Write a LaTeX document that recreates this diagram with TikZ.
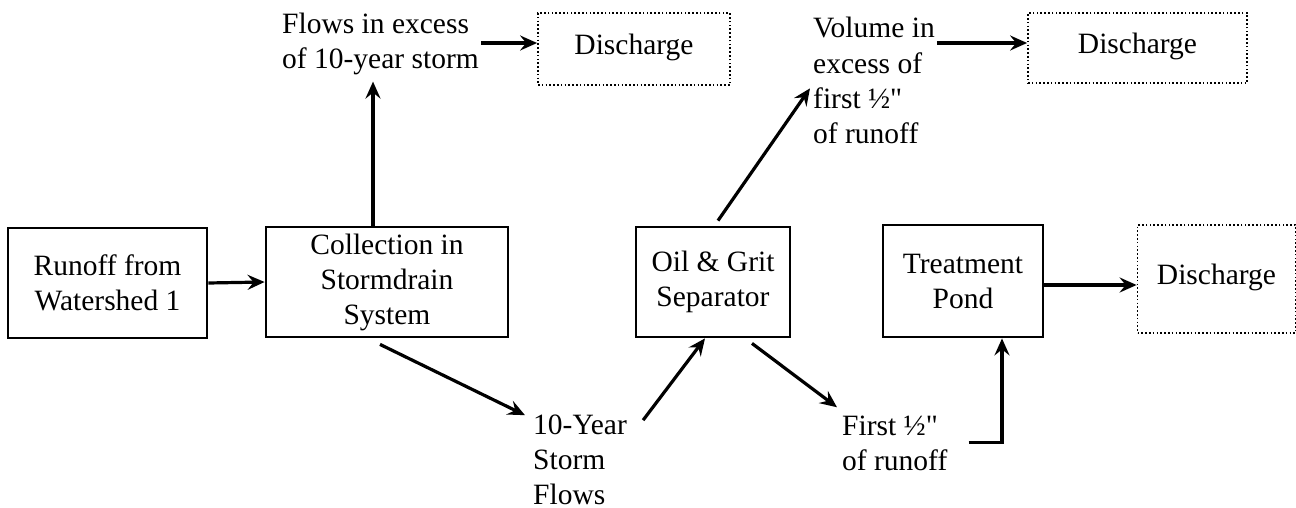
\documentclass[tikz,border=0pt]{standalone}
\usepackage{fontspec}
\setmainfont{Liberation Serif}[Ligatures=TeXOff]
\usetikzlibrary{arrows.meta}
\begin{document}
\begin{tikzpicture}[x=1pt,y=-1pt,
  every node/.style={font=\fontsize{29.5pt}{35pt}\selectfont},
  box/.style={draw, line width=2.8pt, align=center, inner sep=0pt},
  dbox/.style={draw, line width=1.8pt, dash pattern=on 1.6pt off 2.2pt, inner sep=0pt, text height=20.5pt, text depth=10pt},
  lbl/.style={align=left, inner sep=2pt, anchor=base west},
  arr/.style={line width=3.2pt, -{Stealth[length=17pt,width=15pt,inset=6pt]}}]
\useasboundingbox (0,0) rectangle (1296,508);
% boxes
\node[box, minimum width=199pt, minimum height=110pt] (runoff) at (107.5,283) {Runoff from\\Watershed 1};
\node[box, minimum width=242pt, minimum height=110pt] (coll) at (387,282) {Collection in\\Stormdrain\\System};
\node[box, minimum width=154pt, minimum height=110pt] (oil) at (713,282) {Oil \& Grit\\Separator};
\node[box, minimum width=160pt, minimum height=112pt] (pond) at (963,281) {Treatment\\Pond};
\node[dbox, minimum width=192pt, minimum height=72pt] (dis1) at (634,49) {Discharge};
\node[dbox, minimum width=219pt, minimum height=70pt] (dis2) at (1137.5,48) {Discharge};
\node[dbox, minimum width=158pt, minimum height=108pt] (dis3) at (1216.5,279) {Discharge};
% labels (anchor at baseline of last line)
\node[lbl] (flows) at (280,69) {Flows in excess\\of 10-year storm};
\node[lbl] (volume) at (811,143) {Volume in\\excess of\\first ½"\\of runoff};
\node[lbl] (tenyear) at (531,504) {10-Year\\Storm\\Flows};
\node[lbl] (first) at (840,470) {First ½"\\of runoff};
% connectors
\draw[arr] (runoff.east) -- (coll.west);
\draw[arr] ([xshift=-14pt]coll.north) -- ++(0,-144);
\coordinate (d1in) at ([yshift=6pt]dis1.west);
\draw[arr] (flows.east |- d1in) -- (d1in);
\coordinate (d2in) at ([yshift=5pt]dis2.west);
\draw[arr] (volume.east |- d2in) -- (d2in);
\draw[arr] ([xshift=5pt,yshift=5pt]oil.north) -- ([xshift=-1pt,yshift=-73pt]volume.north west);
\draw[arr] ([xshift=-7pt,yshift=-6pt]coll.south) -- ([xshift=-6pt,yshift=-3pt]tenyear.north west);
\draw[arr] ([xshift=14pt,yshift=-8pt]tenyear.north east) -- ([xshift=-8pt]oil.south);
\draw[arr] ([xshift=39pt,yshift=-5pt]oil.south) -- ([xshift=-3pt,yshift=6pt]first.north west);
\draw[arr] ([xshift=19pt]first.east) -| ([xshift=39pt]pond.south);
\draw[arr] ([yshift=-4pt]pond.east) -- ([yshift=-4pt]pond.east -| dis3.west);
\end{tikzpicture}
\end{document}
